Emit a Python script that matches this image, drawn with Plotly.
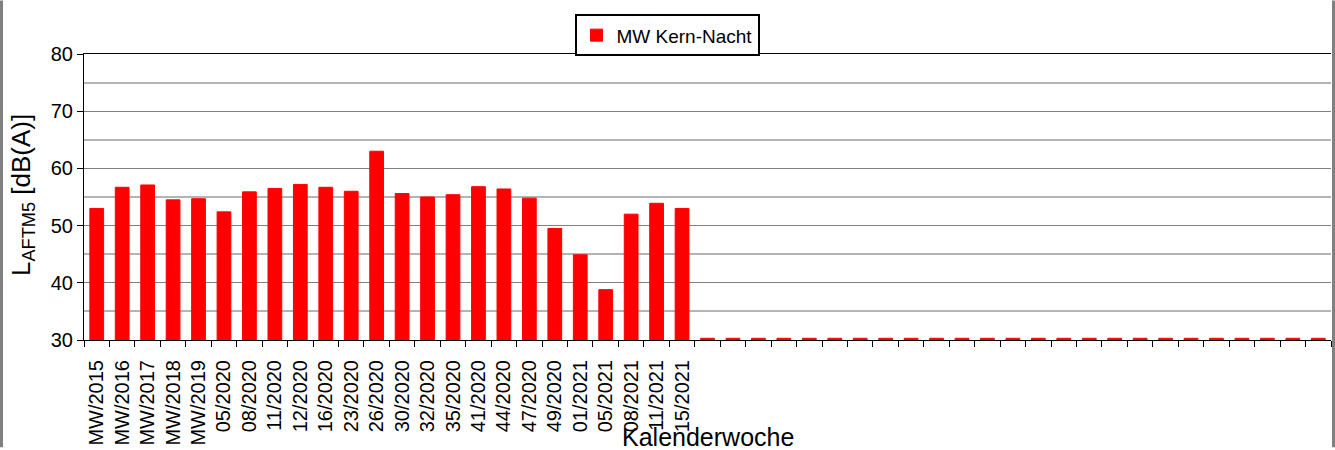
import plotly.graph_objects as go

# ---- data ----
week_labels = [
    "MW/2015", "MW/2016", "MW/2017", "MW/2018", "MW/2019",
    "05/2020", "08/2020", "11/2020", "12/2020", "16/2020", "23/2020",
    "26/2020", "30/2020", "32/2020", "35/2020", "41/2020", "44/2020",
    "47/2020", "49/2020", "01/2021", "05/2021", "08/2021", "11/2021",
    "15/2021",
]
week_values = [
    53.0, 56.7, 57.1, 54.5, 54.7,
    52.4, 55.9, 56.5, 57.2, 56.7, 56.0,
    63.0, 55.6, 55.0, 55.4, 56.8, 56.4,
    54.8, 49.5, 44.9, 38.8, 52.0, 53.9,
    53.0,
]
# empty future slots (only a stub at the axis minimum is visible)
future_values = [
    30.3, 30.3, 30.3, 30.3, 30.3, 30.3, 30.3, 30.3, 30.3, 30.3,
    30.3, 30.3, 30.3, 30.3, 30.3, 30.3, 30.3, 30.3, 30.3, 30.3,
    30.3, 30.3, 30.3, 30.3, 30.3,
]
series_name = "MW Kern-Nacht"
y_title = "L<sub>AFTM5</sub> [dB(A)]"
x_title = "Kalenderwoche"

values = week_values + future_values
positions = list(range(len(values)))

W, H = 1335, 450
ML, MR, MT, MB = 84, 4, 54, 108
PW, PH = W - ML - MR, H - MT - MB

FONT = "Liberation Sans, Arial, sans-serif"

fig = go.Figure()
fig.add_trace(go.Bar(
    x=positions, y=values, name=series_name, width=0.54,
    marker=dict(color="#FF0000", line=dict(color="#FF0000", width=1)),
))


def px_x(p):
    return (p - ML) / PW


def px_y(p):
    return (MT + PH - p) / PH


fig.update_layout(
    width=W, height=H, autosize=False,
    margin=dict(l=ML, r=MR, t=MT, b=MB, pad=0),
    paper_bgcolor="white", plot_bgcolor="white",
    font=dict(family=FONT, color="black", size=20),
    showlegend=True,
    legend=dict(
        x=px_x(667), xanchor="center", y=px_y(14), yanchor="top",
        bordercolor="black", borderwidth=2, bgcolor="white",
        font=dict(size=19, family=FONT), orientation="h",
        itemwidth=30,
    ),
    xaxis=dict(
        range=[-0.5, len(values) - 0.5],
        tickmode="array", tickvals=list(range(len(week_labels))), ticktext=week_labels,
        tickangle=-90, tickfont=dict(size=20, family=FONT),
        ticks="outside", ticklen=11, tickcolor="rgba(0,0,0,0)",
        showline=True, linecolor="black", linewidth=1, mirror=True,
        showgrid=False, zeroline=False,
        minor=dict(tickmode="linear", tick0=-0.5, dtick=1, ticks="outside",
                   ticklen=6, tickcolor="black", tickwidth=1, showgrid=False),
    ),
    yaxis=dict(
        range=[30, 80], tickmode="linear", tick0=0, dtick=10,
        tickfont=dict(size=20, family=FONT),
        ticks="outside", ticklen=6, tickcolor="black",
        showline=True, linecolor="black", linewidth=1,
        showgrid=True, gridcolor="#808080", gridwidth=1, zeroline=False,
        minor=dict(tickmode="linear", tick0=0, dtick=5, showgrid=True,
                   gridcolor="#B4B4B4", gridwidth=1.5, ticks=""),
    ),
    annotations=[
        dict(text=x_title, xref="paper", yref="paper", x=0.5, y=px_y(440),
             xanchor="center", yanchor="middle", showarrow=False,
             font=dict(size=25, family=FONT, color="black")),
        dict(text=y_title, xref="paper", yref="paper", x=px_x(22), y=px_y(196),
             xanchor="center", yanchor="middle", textangle=-90, showarrow=False,
             font=dict(size=26, family=FONT, color="black")),
    ],
    shapes=[
        dict(type="rect", xref="paper", yref="paper", x0=px_x(0), x1=px_x(3),
             y0=px_y(H), y1=px_y(0), fillcolor="#808080", line=dict(width=0), layer="above"),
        dict(type="rect", xref="paper", yref="paper", x0=px_x(W - 3), x1=px_x(W),
             y0=px_y(H), y1=px_y(0), fillcolor="#808080", line=dict(width=0), layer="above"),
    ],
)

fig.write_html("out.html", config={"displayModeBar": False},
               post_script="document.body.style.margin='0';")
